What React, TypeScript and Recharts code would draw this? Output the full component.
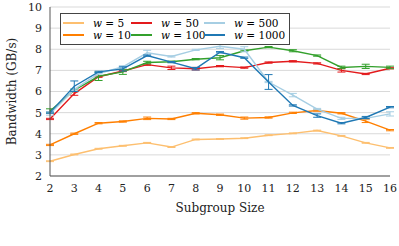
import {
  LineChart,
  Line,
  XAxis,
  YAxis,
  CartesianGrid,
  Legend,
  ErrorBar,
} from 'recharts'

document.body.style.margin = '0'

const sizes = [2, 3, 4, 5, 6, 7, 8, 9, 10, 11, 12, 13, 14, 15, 16]

const w5 = [2.7, 3.02, 3.29, 3.43, 3.57, 3.37, 3.73, 3.75, 3.79, 3.93, 4.02, 4.15, 3.9, 3.57, 3.33]
const w10 = [3.47, 4.0, 4.5, 4.58, 4.73, 4.7, 4.97, 4.9, 4.74, 4.77, 4.99, 5.1, 4.97, 4.6, 4.17]
const w50 = [4.7, 5.9, 6.7, 6.97, 7.27, 7.12, 7.08, 7.2, 7.13, 7.37, 7.43, 7.33, 7.0, 6.83, 7.1]
const w100 = [5.08, 6.06, 6.72, 6.93, 7.37, 7.41, 7.53, 7.6, 7.93, 8.1, 7.93, 7.7, 7.14, 7.19, 7.14]
const w500 = [4.93, 6.1, 6.85, 7.17, 7.83, 7.66, 7.97, 8.14, 8.0, 6.45, 5.83, 5.17, 4.73, 4.73, 4.94]
const w1000 = [5.0, 6.25, 6.93, 7.07, 7.7, 7.39, 7.08, 7.86, 7.6, 6.45, 5.34, 4.86, 4.5, 4.77, 5.26]

const e5 = [0.02, 0.02, 0.02, 0.02, 0.02, 0.02, 0.02, 0.02, 0.02, 0.02, 0.02, 0.02, 0.02, 0.02, 0.02]
const e10 = [0.03, 0.03, 0.03, 0.03, 0.06, 0.03, 0.03, 0.03, 0.05, 0.03, 0.03, 0.03, 0.03, 0.07, 0.03]
const e50 = [0.03, 0.08, 0.03, 0.03, 0.03, 0.08, 0.06, 0.03, 0.03, 0.03, 0.03, 0.03, 0.08, 0.03, 0.03]
const e100 = [0.1, 0.05, 0.2, 0.12, 0.06, 0.03, 0.03, 0.1, 0.03, 0.03, 0.05, 0.03, 0.06, 0.1, 0.06]
const e500 = [0.05, 0.03, 0.03, 0.05, 0.12, 0.03, 0.03, 0.1, 0.12, 0.03, 0.08, 0.03, 0.05, 0.03, 0.1]
const e1000 = [0.03, 0.25, 0.03, 0.1, 0.03, 0.03, 0.06, 0.03, 0.03, 0.35, 0.03, 0.08, 0.03, 0.05, 0.03]

const yTicks = [2, 3, 4, 5, 6, 7, 8, 9, 10]

const series = [
  { key: 'w5', err: 'e5', label: '5', color: '#fdbf6f' },
  { key: 'w10', err: 'e10', label: '10', color: '#ff7f00' },
  { key: 'w50', err: 'e50', label: '50', color: '#e31a1c' },
  { key: 'w100', err: 'e100', label: '100', color: '#33a02c' },
  { key: 'w500', err: 'e500', label: '500', color: '#a6cee3' },
  { key: 'w1000', err: 'e1000', label: '1000', color: '#1f78b4' },
]

const data = sizes.map((s, i) => ({
  size: s,
  w5: w5[i], e5: e5[i],
  w10: w10[i], e10: e10[i],
  w50: w50[i], e50: e50[i],
  w100: w100[i], e100: e100[i],
  w500: w500[i], e500: e500[i],
  w1000: w1000[i], e1000: e1000[i],
}))

const font = "'DejaVu Serif', 'Liberation Serif', 'Times New Roman', serif"

function LegendBox() {
  // pgfplots style: 2 rows x 3 columns
  const cols = [series.slice(0, 2), series.slice(2, 4), series.slice(4, 6)]
  const colW = [68, 73, 'auto']
  return (
    <div
      style={{
        border: '1px solid #444',
        background: '#fff',
        display: 'flex',
        padding: '3px 4px 3px 2px',
        fontFamily: font,
        fontSize: 10.5,
        lineHeight: '12px',
      }}
    >
      {cols.map((col, ci) => (
        <div key={ci} style={{ width: colW[ci], flexShrink: 0 }}>
          {col.map((s) => (
            <div key={s.key} style={{ display: 'flex', alignItems: 'center', height: 12 }}>
              <span
                style={{
                  display: 'inline-block',
                  width: 21,
                  height: 2,
                  flexShrink: 0,
                  background: s.color,
                  margin: '0 9px 0 0',
                }}
              />
              <span style={{ whiteSpace: 'nowrap' }}>{'\u{1D464} = ' + s.label}</span>
            </div>
          ))}
        </div>
      ))}
    </div>
  )
}

const tickStyle = { fontSize: 11, fill: '#222', fontFamily: font }

export default function App() {
  return (
    <div style={{ fontFamily: font }}>
      <LineChart
        width={399}
        height={246}
        data={data}
        margin={{ top: 7, right: 9, bottom: 0, left: 0 }}
        style={{ background: '#fff', fontFamily: font }}
      >
        <CartesianGrid vertical={false} stroke="#d9d9d9" />
        <XAxis
          dataKey="size"
          type="number"
          domain={[2, 16]}
          ticks={sizes}
          height={38}
          interval={0}
          tick={tickStyle}
          tickLine={false}
          axisLine={{ stroke: '#555' }}
          label={{
            value: 'Subgroup Size',
            position: 'insideBottom',
            offset: 2,
            style: { fontSize: 12, fill: '#222', fontFamily: font },
          }}
        />
        <XAxis
          xAxisId="top"
          dataKey="size"
          type="number"
          domain={[2, 16]}
          orientation="top"
          height={0}
          tick={false}
          tickLine={false}
          axisLine={{ stroke: '#555' }}
        />
        <YAxis
          domain={[2, 10]}
          ticks={yTicks}
          width={50}
          interval={0}
          tick={tickStyle}
          tickLine={false}
          axisLine={{ stroke: '#555' }}
          label={{
            value: 'Bandwidth (GB/s)',
            angle: -90,
            position: 'insideLeft',
            offset: 12,
            style: { fontSize: 12, fill: '#222', fontFamily: font, textAnchor: 'middle' },
          }}
        />
        <YAxis
          yAxisId="right"
          orientation="right"
          domain={[2, 10]}
          width={0}
          tick={false}
          tickLine={false}
          axisLine={{ stroke: '#555' }}
        />
        <Legend
          content={<LegendBox />}
          wrapperStyle={{ position: 'absolute', left: 60, top: 13, width: 'auto' }}
        />
        {series.map((s) => (
          <Line
            key={s.key}
            type="linear"
            dataKey={s.key}
            stroke={s.color}
            strokeWidth={1.4}
            dot={false}
            isAnimationActive={false}
          >
            <ErrorBar dataKey={s.err} width={4} strokeWidth={1} stroke={s.color} direction="y" />
          </Line>
        ))}
      </LineChart>
    </div>
  )
}
